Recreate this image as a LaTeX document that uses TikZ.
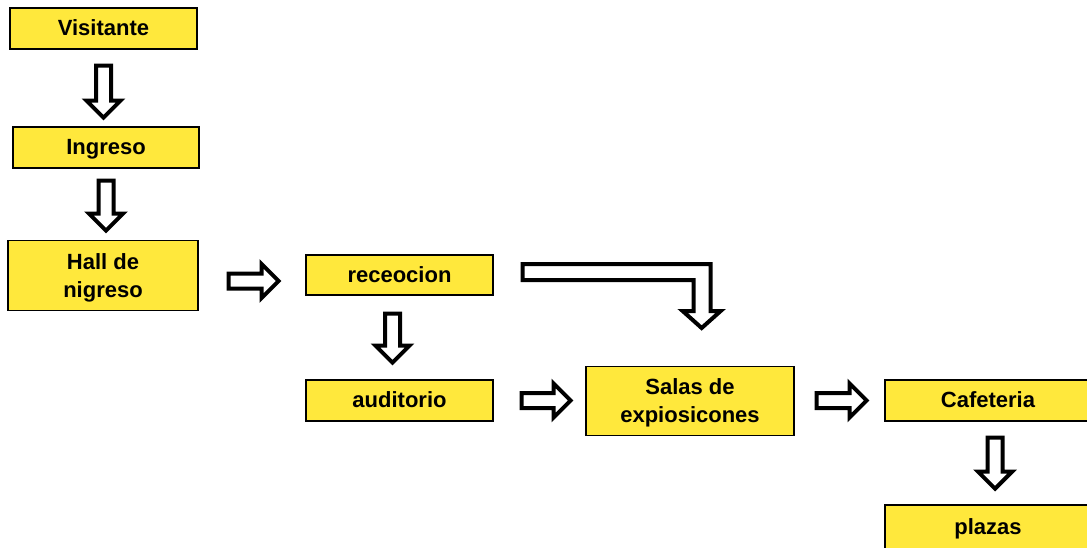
\documentclass[tikz,border=0pt]{standalone}
\usepackage{fontspec}
\setmainfont{Liberation Sans}
\usetikzlibrary{calc}
\definecolor{boxyellow}{HTML}{FFE83C}
\tikzset{
  box/.style={draw=black, line width=1.3pt, fill=boxyellow, inner sep=0pt,
    font=\fontsize{22}{28}\selectfont\bfseries, align=center},
  onebox/.style={box, text height=15.8pt, text depth=1pt},
  twobox/.style={box, text depth=0pt},
  blk/.style={draw=black, fill=white, line width=4pt},
  pics/barr/.style={code={\draw[blk] (-#1/2,-7.5) -- (#1/2-17,-7.5) -- (#1/2-17,-17) -- (#1/2,0) -- (#1/2-17,17) -- (#1/2-17,7.5) -- (-#1/2,7.5) -- cycle;}}
}
\begin{document}
\begin{tikzpicture}[x=1pt,y=-1pt]
\useasboundingbox (0,0) rectangle (1087,547);
\node[onebox, minimum width=187, minimum height=41] (vis) at (103.5,28.5) {Visitante};
\node[onebox, minimum width=186, minimum height=41] (ing) at (106,147.5) {Ingreso};
\node[twobox, minimum width=190, minimum height=70] (hall) at (103,275.5) {Hall de\\nigreso};
\node[onebox, minimum width=187, minimum height=40] (rec) at (399.5,275) {receocion};
\node[onebox, minimum width=187, minimum height=41] (aud) at (399.5,400.5) {auditorio};
\node[twobox, minimum width=208, minimum height=69] (salas) at (690,401) {Salas de\\expiosicones};
\node[onebox, minimum width=206, minimum height=41] (caf) at (988,400.5) {Cafeteria};
\node[onebox, minimum width=206, minimum height=44] (plz) at (988,527) {plazas};

\pic[rotate=-90] at ($(vis.south)+(0,42)$) {barr=52};
\pic[rotate=-90] at ($(ing.south)+(0,37)$) {barr=50};
\pic at ($(hall.east)+(55,5.5)$) {barr=50};
\pic[rotate=-90] at ($(rec.south)+(-7,42.5)$) {barr=49};
\pic at ($(aud.east)+(52.5,0)$) {barr=49};
\pic at ($(salas.east)+(47,-0.5)$) {barr=50};
\pic[rotate=-90] at ($(caf.south)+(7,41.5)$) {barr=51};

\draw[blk] ($(rec.east)+(29,-11)$) coordinate (b0) -- ++(188,0) -- ++(0,47) -- ++(10,0) -- ++(-19,17) -- ++(-19,-17) -- ++(11,0) -- ++(0,-31) -- ++(-171,0) -- cycle;
\end{tikzpicture}
\end{document}
